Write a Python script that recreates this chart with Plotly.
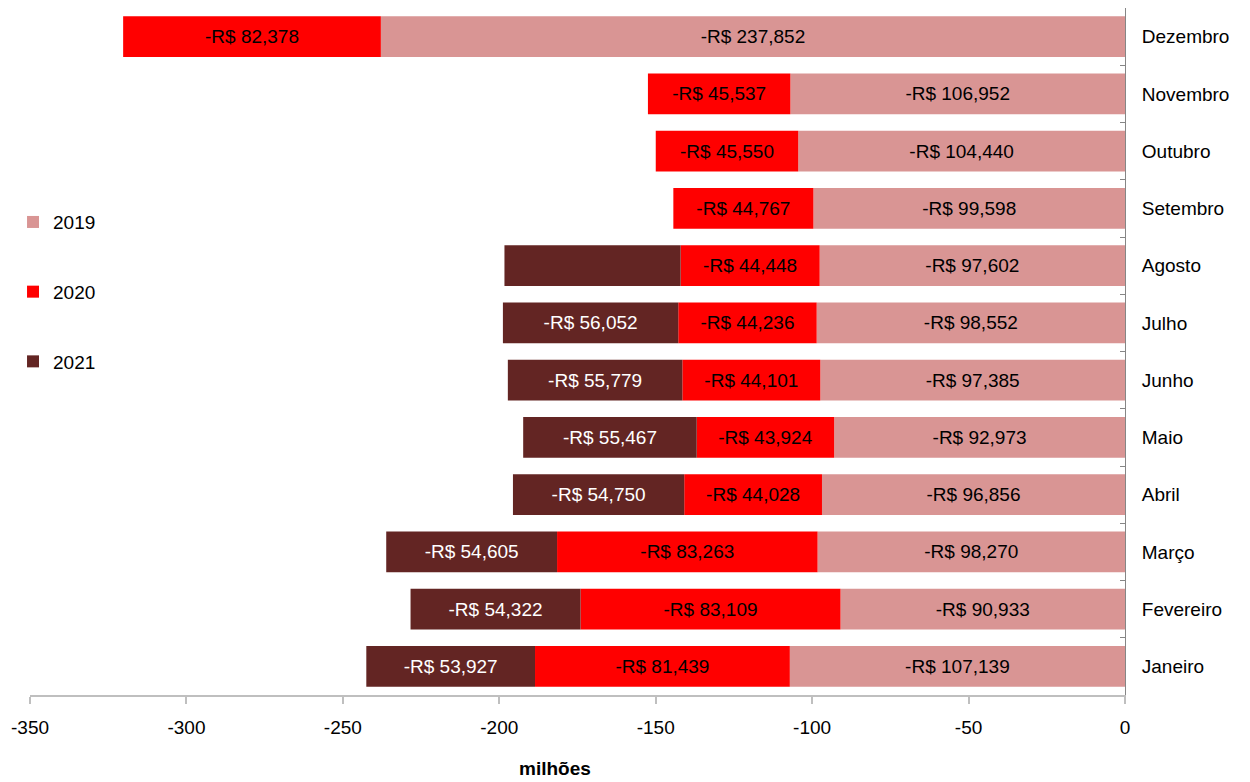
import plotly.graph_objects as go

meses = ["Janeiro", "Fevereiro", "Março", "Abril", "Maio", "Junho",
         "Julho", "Agosto", "Setembro", "Outubro", "Novembro", "Dezembro"]

v2019 = [107.139, 90.933, 98.270, 96.856, 92.973, 97.385,
         98.552, 97.602, 99.598, 104.440, 106.952, 237.852]
v2020 = [81.439, 83.109, 83.263, 44.028, 43.924, 44.101,
         44.236, 44.448, 44.767, 45.550, 45.537, 82.378]
v2021 = [53.927, 54.322, 54.605, 54.750, 55.467, 55.779,
         56.052, 56.3, None, None, None, None]
# rótulos ocultos no original
sem_rotulo_2021 = ["Agosto"]

anos = ["2019", "2020", "2021"]
x_ticks = [-350, -300, -250, -200, -150, -100, -50, 0]
x_ticklabels = ["-350", "-300", "-250", "-200", "-150", "-100", "-50", "0"]

cores = ["#d99594", "#ff0000", "#632523"]
cores_texto = ["#000000", "#000000", "#ffffff"]

FONT = "Liberation Sans, Arial, sans-serif"


def fmt(v):
    return "-R$ " + f"{v:.3f}".replace(".", ",")


fig = go.Figure()
for ano, vals, cor, ct in zip(anos, [v2019, v2020, v2021], cores, cores_texto):
    xs = [(-v if v is not None else None) for v in vals]
    txt = []
    for m, v in zip(meses, vals):
        if v is None or (ano == "2021" and m in sem_rotulo_2021):
            txt.append("")
        else:
            txt.append(fmt(v))
    fig.add_trace(go.Bar(
        y=meses, x=xs, orientation="h", name=ano,
        marker=dict(color=cor, line=dict(width=0)),
        text=txt, textposition="inside", insidetextanchor="middle",
        textangle=0, constraintext="none",
        textfont=dict(color=ct, size=19, family=FONT),
        legendgroup=ano,
        hoverinfo="skip",
    ))

fig.update_layout(
    barmode="relative",
    bargap=0.285,
    width=1250, height=782,
    margin=dict(l=22, r=133, t=0, b=95, autoexpand=False),
    paper_bgcolor="white",
    plot_bgcolor="white",
    font=dict(family=FONT, size=19, color="#000000"),
    showlegend=True,
    legend=dict(
        x=-0.0155, xanchor="left",
        y=0.716, yanchor="top",
        traceorder="grouped",
        tracegroupgap=42,
        font=dict(size=19, family=FONT),
        bgcolor="rgba(0,0,0,0)",
    ),
    xaxis=dict(
        range=[-350, 0],
        tickvals=x_ticks, ticktext=x_ticklabels,
        showgrid=False, zeroline=False,
        showline=True, linecolor="#bfbfbf", linewidth=2,
        ticks="outside", ticklen=7, tickcolor="#bfbfbf", tickwidth=2,
        tickfont=dict(size=19, family=FONT),
        ticklabelstandoff=7,
        fixedrange=True,
    ),
    yaxis=dict(
        side="right",
        categoryorder="array", categoryarray=meses,
        showgrid=False, zeroline=False,
        showline=True, linecolor="#868686", linewidth=1,
        ticks="inside", tickson="boundaries", ticklen=5,
        tickcolor="#868686",
        tickfont=dict(size=19, family=FONT),
        ticklabelstandoff=12,
        fixedrange=True,
    ),
)
fig.add_annotation(
    text="<b>milhões</b>",
    xref="paper", yref="paper",
    x=(555 - 30) / 1095, y=-(768 - 695) / 687,
    xanchor="center", yanchor="middle",
    showarrow=False, font=dict(size=19, family=FONT),
)

fig.write_html("out.html")
